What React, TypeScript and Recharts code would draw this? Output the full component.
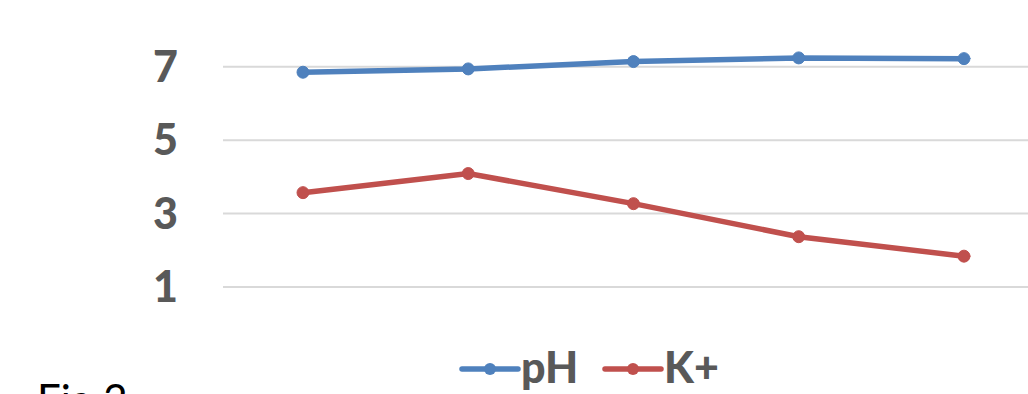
import React from 'react';
import { LineChart, Line, XAxis, YAxis, CartesianGrid } from 'recharts';

const categories = ['1', '2', '3', '4', '5'];
const phValues = [6.85, 6.94, 7.14, 7.24, 7.22];
const kValues = [3.57, 4.09, 3.27, 2.37, 1.84];
const yTicks = [1, 3, 5, 7];

const series = [
  { key: 'pH', name: 'pH', color: '#4F81BD' },
  { key: 'K', name: 'K+', color: '#C0504D' },
];

const data = categories.map((c, i) => ({ cat: c, pH: phValues[i], K: kValues[i] }));

const FONT = 'Lato, "Open Sans", sans-serif';

export default function App() {
  return (
    <div style={{ position: 'absolute', left: 0, top: 0, width: 1028, height: 394, overflow: 'hidden', background: '#fff' }}>
      <LineChart width={1044} height={394} data={data} margin={{ top: 30, right: 0, bottom: 107, left: 0 }}>
        <CartesianGrid vertical={false} horizontalValues={yTicks} stroke="#D9D9D9" strokeWidth={2} />
        <XAxis dataKey="cat" hide padding={{ left: 80, right: 80 }} />
        <YAxis
          domain={[1, 8]}
          ticks={yTicks}
          width={223}
          axisLine={false}
          tickLine={false}
          tickSize={0}
          tickMargin={45}
          tick={{ fill: '#595959', fontSize: 43, fontWeight: 900, fontFamily: FONT }}
        />
        {series.map((s) => (
          <Line
            key={s.key}
            dataKey={s.key}
            name={s.name}
            stroke={s.color}
            strokeWidth={5.5}
            strokeLinecap="round"
            dot={{ r: 6, fill: s.color, stroke: s.color, strokeWidth: 1 }}
            isAnimationActive={false}
          />
        ))}
      </LineChart>
      <svg style={{ position: 'absolute', left: 455, top: 340 }} width={300} height={54}>
        {series.map((s, i) => {
          const x0 = 7 + i * 143;
          return (
            <g key={s.key}>
              <line x1={x0} y1={29} x2={x0 + 56} y2={29} stroke={s.color} strokeWidth={5.5} strokeLinecap="round" />
              <circle cx={x0 + 28} cy={29} r={6} fill={s.color} />
              <text x={x0 + 59} y={43} fill="#595959" fontSize={43} fontWeight={900} fontFamily={FONT}>
                {s.name}
              </text>
            </g>
          );
        })}
      </svg>
      <div style={{ position: 'absolute', left: 37, top: 378, fontFamily: FONT, fontSize: 42, lineHeight: 1, color: '#000' }}>
        Fig 2
      </div>
    </div>
  );
}
